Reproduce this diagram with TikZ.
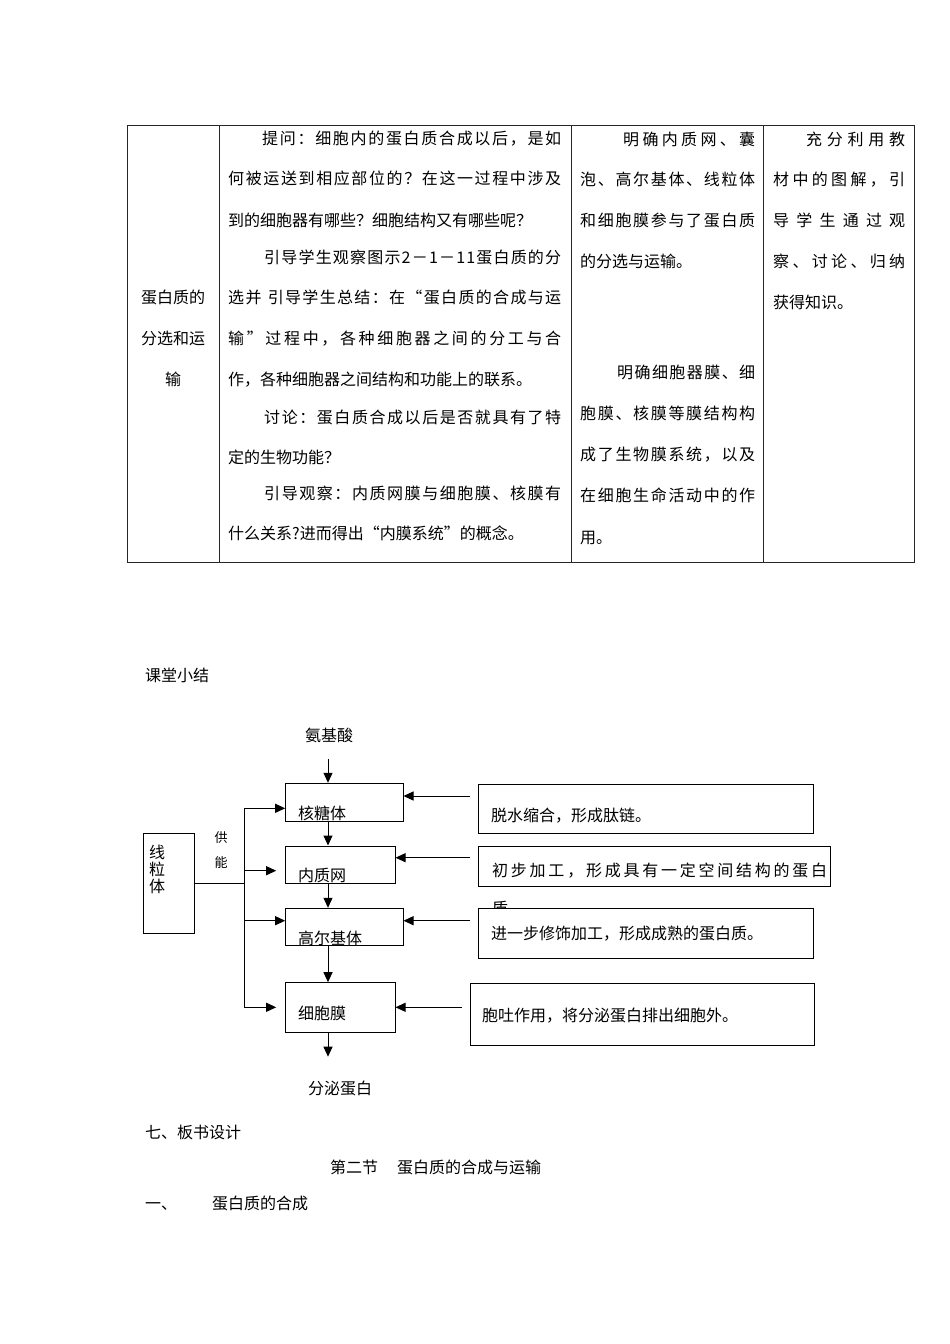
\documentclass[tikz,border=0pt]{standalone}
\usepackage{fontspec}
\setmainfont{Noto Sans CJK SC}
\usetikzlibrary{arrows.meta}
\makeatletter
\def\sprd@a#1{#1\futurelet\sprd@next\sprd@b}
\def\sprd@b{\ifx\sprd@next\relax\expandafter\@gobble\else\hfil\expandafter\sprd@a\fi}
\newcommand\spreadtxt[2]{\makebox[#1][s]{\sprd@a#2\relax}}
\makeatother
\tikzset{
  tl/.style={anchor=base west, inner sep=0pt, font=\fontsize{16pt}{18pt}\selectfont},
  tc/.style={anchor=base, inner sep=0pt, font=\fontsize{16pt}{18pt}\selectfont},
  small/.style={anchor=base, inner sep=0pt, font=\fontsize{13pt}{15pt}\selectfont},
  grid/.style={line width=0.9pt, draw=black!85},
  box/.style={draw, line width=1pt, fill=white, inner sep=0pt},
  ln/.style={line width=1pt},
  arr/.style={line width=1pt, -{Triangle[length=10pt,width=9pt]}},
}
\begin{document}
\begin{tikzpicture}[x=1pt,y=-1pt]
\fill[white] (0,0) rectangle (950,1344);
\useasboundingbox (0,0) rectangle (950,1344);
% table
\draw[grid] (127,125) rectangle (914,562);
\draw[grid] (219,125) -- (219,562);
\draw[grid] (571,125) -- (571,562);
\draw[grid] (763,125) -- (763,562);
% col 1
\node[tc] (a1) at (173,303) {蛋白质的};
\node[tc] (a2) at (173,344) {分选和运};
\node[tc] (a3) at (173,385) {输};
% col 2
\node[tl] (b1) at (262,144) {\spreadtxt{299pt}{提问：细胞内的蛋白质合成以后，是如}};
\node[tl] (b2) at (228,184) {\spreadtxt{333pt}{何被运送到相应部位的？在这一过程中涉及}};
\node[tl] (b3) at (228,226) {到的细胞器有哪些？细胞结构又有哪些呢？};
\node[tl] (b4) at (264,263) {\spreadtxt{297pt}{引导学生观察图示2－1－11蛋白质的分}};
\node[tl] (b5) at (228,303) {\spreadtxt{333pt}{选并\ 引导学生总结：在“蛋白质的合成与运}};
\node[tl] (b6) at (228,344) {\spreadtxt{333pt}{输”过程中，各种细胞器之间的分工与合}};
\node[tl] (b7) at (228,385) {作，各种细胞器之间结构和功能上的联系。};
\node[tl] (b8) at (264,423) {\spreadtxt{297pt}{讨论：蛋白质合成以后是否就具有了特}};
\node[tl] (b9) at (228,463) {定的生物功能？};
\node[tl] (b10) at (264,499) {\spreadtxt{297pt}{引导观察：内质网膜与细胞膜、核膜有}};
\node[tl] (b11) at (228,539) {什么关系?进而得出“内膜系统”的概念。};
% col 3
\node[tl] (c1) at (623,145) {\spreadtxt{132pt}{明确内质网、囊}};
\node[tl] (c2) at (580,185) {\spreadtxt{175pt}{泡、高尔基体、线粒体}};
\node[tl] (c3) at (580,226) {\spreadtxt{175pt}{和细胞膜参与了蛋白质}};
\node[tl] (c4) at (580,267) {的分选与运输。};
\node[tl] (c5) at (617,378) {\spreadtxt{138pt}{明确细胞器膜、细}};
\node[tl] (c6) at (580,419) {\spreadtxt{175pt}{胞膜、核膜等膜结构构}};
\node[tl] (c7) at (580,460) {\spreadtxt{175pt}{成了生物膜系统，以及}};
\node[tl] (c8) at (580,501) {\spreadtxt{175pt}{在细胞生命活动中的作}};
\node[tl] (c9) at (580,543) {用。};
% col 4
\node[tl] (d1) at (806,145) {\spreadtxt{99pt}{充分利用教}};
\node[tl] (d2) at (773,185) {\spreadtxt{132pt}{材中的图解，引}};
\node[tl] (d3) at (773,226) {\spreadtxt{132pt}{导学生通过观}};
\node[tl] (d4) at (773,267) {\spreadtxt{132pt}{察、讨论、归纳}};
\node[tl] (d5) at (773,308) {获得知识。};
% summary heading
\node[tl] (ktxj) at (145,681) {课堂小结};
% diagram boxes
\node[box, minimum width=117.3pt, minimum height=37.7pt] (hty) at (344.35,802.15) {};
\node[box, minimum width=109.3pt, minimum height=37.3pt] (nzw) at (340.35,864.65) {};
\node[box, minimum width=117.3pt, minimum height=37.4pt] (gej) at (344.35,927) {};
\node[box, minimum width=109.3pt, minimum height=50pt] (xbm) at (340.35,1007.7) {};
\node[box, minimum width=50.7pt, minimum height=100pt] (xlt) at (168.65,883.3) {};
\node[tl] (htyt) at (298,819) {核糖体};
\node[tl] (nzwt) at (298,881) {内质网};
\node[tl] (gejt) at (298,944) {高尔基体};
\node[tl] (xbmt) at (298,1019) {细胞膜};
\node[anchor=north west, inner sep=0pt, align=left, font=\fontsize{16pt}{17pt}\selectfont] (xltt) at (149,845) {线\\粒\\体};
\node[tc] (aa) at (329,741) {氨基酸};
\node[tc] (fm) at (340,1094) {分泌蛋白};
\node[small] (gong) at (221,842) {供};
\node[small] (neng) at (221,867) {能};
% right boxes
\node[box, minimum width=335pt, minimum height=49.3pt] (r1) at (645.8,808.65) {};
\node[tl] (r1t) at (491,821) {脱水缩合，形成肽链。};
\node[box, minimum width=352.4pt, minimum height=40.7pt] (r2) at (654.5,866.35) {};
\node[tl] (r2t) at (492,876) {\spreadtxt{335pt}{初步加工，形成具有一定空间结构的蛋白}};
\node[tl] (r2u) at (492,914) {质};
\node[box, minimum width=335pt, minimum height=50pt] (r3) at (645.8,933.3) {};
\node[tl] (r3t) at (491,939) {进一步修饰加工，形成成熟的蛋白质。};
\node[box, minimum width=344pt, minimum height=61.7pt] (r4) at (642,1014.15) {};
\node[tl] (r4t) at (482,1021) {胞吐作用，将分泌蛋白排出细胞外。};
% vertical flow
\coordinate (ax) at (328,0);
\coordinate (aa0) at (328,759);
\coordinate (fm0) at (328,1056.7);
\draw[arr] (aa0) -- (hty.north -| ax);
\draw[arr] (hty.south -| ax) -- (nzw.north -| ax);
\draw[arr] (nzw.south -| ax) -- (gej.north -| ax);
\draw[arr] (gej.south -| ax) -- (xbm.north -| ax);
\draw[arr] (xbm.south -| ax) -- (fm0);
% energy trunk
\coordinate (tj) at (244.3,883.3);
\coordinate (t1) at (244.3,808.3);
\coordinate (t2) at (244.3,870.7);
\coordinate (t3) at (244.3,920.7);
\coordinate (t4) at (244.3,1007.3);
\draw[ln] (xlt.east) -- (tj);
\draw[ln] (t1) -- (t4);
\draw[arr] (t1) -- (t1 -| hty.west);
\draw[arr, shorten >=9pt] (t2) -- (t2 -| nzw.west);
\draw[arr] (t3) -- (t3 -| gej.west);
\draw[arr, shorten >=9pt] (t4) -- (t4 -| xbm.west);
% right arrows
\coordinate (s1) at (470,796);
\coordinate (s2) at (470,857.7);
\coordinate (s3) at (470,920.7);
\coordinate (s4) at (461.7,1007.3);
\draw[arr] (s1) -- (s1 -| hty.east);
\draw[arr] (s2) -- (s2 -| nzw.east);
\draw[arr] (s3) -- (s3 -| gej.east);
\draw[arr] (s4) -- (s4 -| xbm.east);
% board design
\node[tl] (bs) at (145,1138) {七、板书设计};
\node[tl] (sec) at (330,1173) {第二节\hspace{19pt}蛋白质的合成与运输};
\node[tl] (one) at (145,1209) {一、};
\node[tl] (onet) at (212,1209) {蛋白质的合成};
\end{tikzpicture}
\end{document}
